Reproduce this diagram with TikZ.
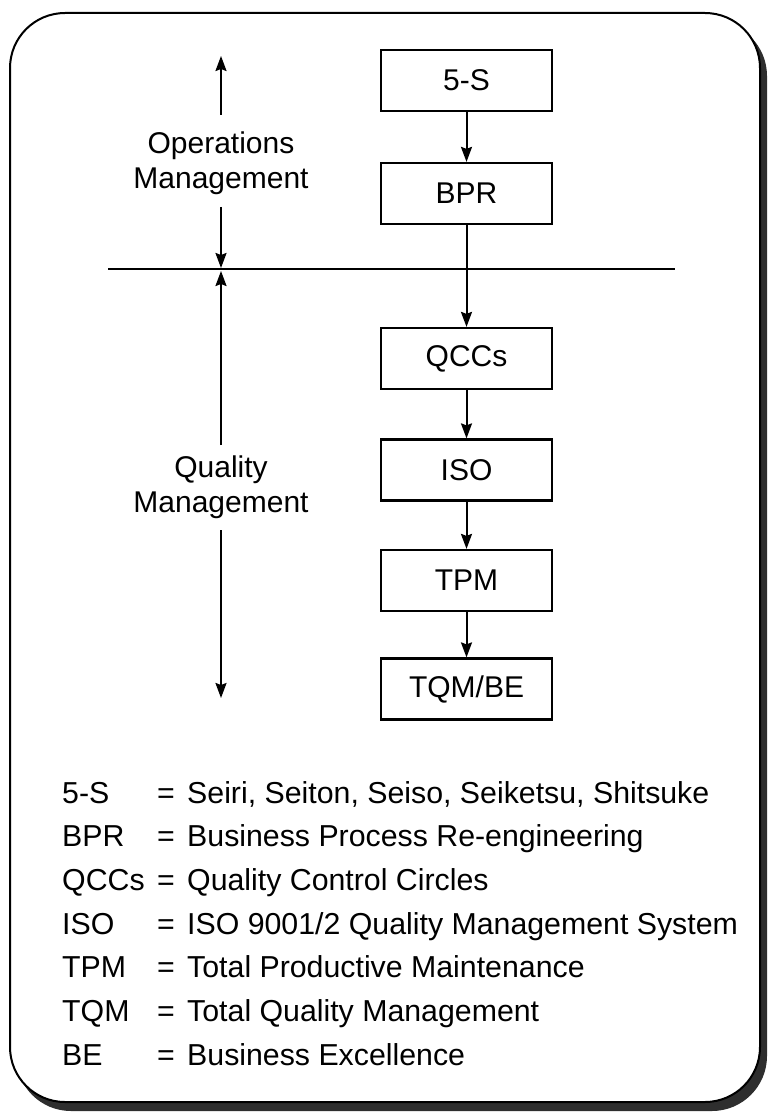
\documentclass[tikz,border=0pt]{standalone}
\usepackage{fontspec}
\setmainfont{Liberation Sans}
\usetikzlibrary{arrows.meta}
\begin{document}
\begin{tikzpicture}[x=1pt,y=-1pt,
  every node/.style={font=\fontsize{30}{35}\selectfont},
  stagebox/.style={draw=black,line width=2.2pt,fill=white,minimum width=171pt,minimum height=61pt,inner sep=0pt},
  flow/.style={line width=2pt,-{Stealth[length=15pt,width=11pt,inset=2pt]}},
  sidelabel/.style={align=center,inner sep=0pt},
  legabbr/.style={anchor=base west,inner sep=0pt,font=\fontsize{30.3}{35}\selectfont},
]
\useasboundingbox (0,0) rectangle (768,1115);

% frame with drop shadow
\fill[black!82,rounded corners=55pt] (16,21) rectangle (767,1111);
\draw[fill=white,line width=2pt,rounded corners=55pt] (10,13) rectangle (760,1102);

% divider between the two management areas
\coordinate (divL) at (108,269);
\coordinate (divR) at (675,269);
\draw[line width=2pt] (divL) -- (divR);

% stages
\node[stagebox] (s5)  at (466.5,80.5) {5-S};
\node[stagebox] (bpr) at (466.5,193.5) {BPR};
\node[stagebox] (qcc) at (466.5,358.5) {QCCs};
\node[stagebox] (iso) at (466.5,470) {ISO};
\node[stagebox] (tpm) at (466.5,580.5) {TPM};
\node[stagebox] (tqm) at (466.5,689) {TQM/BE};

\draw[flow] (s5) -- (bpr);
\draw[flow] (bpr) -- (qcc);
\draw[flow] (qcc) -- (iso);
\draw[flow] (iso) -- (tpm);
\draw[flow] (tpm) -- (tqm);

% side labels with range arrows
\node[sidelabel] (ops) at (221,163) {Operations\\Management};
\node[sidelabel] (qual) at (221,487) {Quality\\Management};
\coordinate (opsTail1) at (221,115);
\coordinate (opsTip1) at (221,56);
\coordinate (opsTail2) at (221,207);
\coordinate (opsTip2) at (221,268);
\coordinate (qTail1) at (221,445);
\coordinate (qTip1) at (221,271);
\coordinate (qTail2) at (221,530);
\coordinate (qTip2) at (221,698);
\draw[flow] (opsTail1) -- (opsTip1);
\draw[flow] (opsTail2) -- (opsTip2);
\draw[flow] (qTail1) -- (qTip1);
\draw[flow] (qTail2) -- (qTip2);

% legend
\foreach \i/\ab/\df in {0/5-S/{Seiri, Seiton, Seiso, Seiketsu, Shitsuke},
                        1/BPR/{Business Process Re-engineering},
                        2/QCCs/{Quality Control Circles},
                        3/ISO/{ISO 9001/2 Quality Management System},
                        4/TPM/{Total Productive Maintenance},
                        5/TQM/{Total Quality Management},
                        6/BE/{Business Excellence}} {
  \node[legabbr] (ab\i) at (62,{803+43.7*\i}) {\ab};
  \node[legabbr] (eq\i) at (157,{803+43.7*\i}) {=};
  \node[legabbr] (df\i) at (187,{803+43.7*\i}) {\df};
}
\end{tikzpicture}
\end{document}
